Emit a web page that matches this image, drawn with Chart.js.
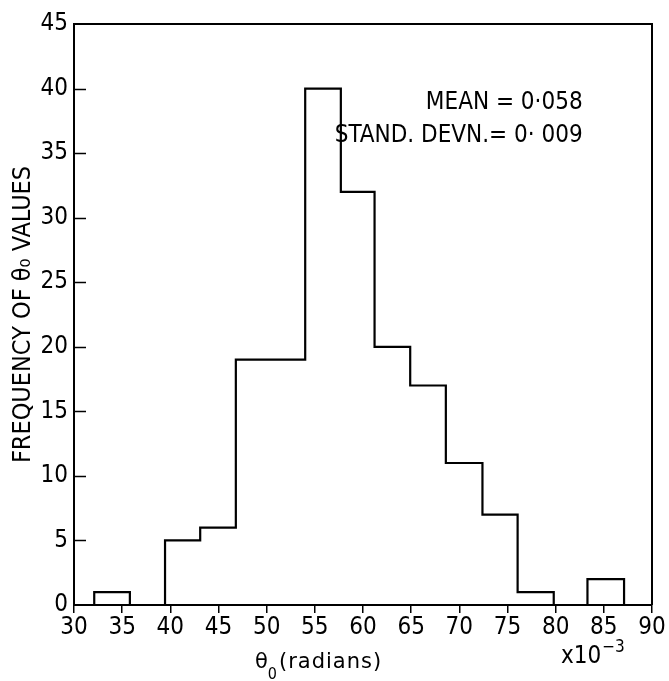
<!DOCTYPE html>
<html>
<head>
<meta charset="utf-8">
<script src="https://cdn.jsdelivr.net/npm/chart.js@4/dist/chart.umd.min.js"></script>
<style>
  html, body { margin: 0; padding: 0; background: #fff; }
  #wrap { width: 669px; height: 681px; }
</style>
</head>
<body>
<div id="wrap"><canvas id="hist"></canvas></div>
<script>
// bin edges of theta_0 (x10^-3 radians) and the count in each bin
var binEdges = [32.1, 35.8, 39.45, 43.1, 46.8, 50.4, 54.0, 57.7, 61.2, 64.9, 68.6, 72.4, 76.05, 79.8, 83.3, 87.1];
var counts = [1, 0, 5, 6, 19, 19, 40, 32, 20, 17, 11, 7, 1, 0, 2];
var xTicks = [30, 35, 40, 45, 50, 55, 60, 65, 70, 75, 80, 85, 90];
var yTicks = [0, 5, 10, 15, 20, 25, 30, 35, 40, 45];
var notes = ['MEAN = 0\u00b7058', 'STAND. DEVN.= 0\u00b7 009'];

var FONT = '"DejaVu Sans Condensed", "DejaVu Sans", sans-serif';

// outline of the histogram as a stepped line
var pts = [{x: binEdges[0], y: 0}];
for (var i = 0; i < counts.length; i++) {
    pts.push({x: binEdges[i], y: counts[i]});
}
pts.push({x: binEdges[binEdges.length - 1], y: 0});

var extras = {
    id: 'extras',
    afterDraw: function (chart) {
        var ctx = chart.ctx, a = chart.chartArea;
        var sx = chart.scales.x, sy = chart.scales.y;
        ctx.save();
        ctx.strokeStyle = '#000';
        ctx.fillStyle = '#000';
        // top and right of the frame
        ctx.lineWidth = 2;
        ctx.beginPath();
        ctx.moveTo(a.left, a.top);
        ctx.lineTo(a.right, a.top);
        ctx.lineTo(a.right, a.bottom);
        ctx.stroke();
        // y ticks point inwards
        ctx.lineWidth = 1.5;
        ctx.beginPath();
        yTicks.forEach(function (v) {
            if (v === 0 || v === 45) return;
            var py = Math.round(sy.getPixelForValue(v)) + 0.5;
            ctx.moveTo(a.left, py);
            ctx.lineTo(a.left + 12, py);
        });
        ctx.stroke();

        // mean / std note
        ctx.font = '24px ' + FONT;
        ctx.textAlign = 'right';
        ctx.textBaseline = 'alphabetic';
        ctx.fillText(notes[0], sx.getPixelForValue(82.8), sy.getPixelForValue(38.4));
        ctx.fillText(notes[1], sx.getPixelForValue(82.8), sy.getPixelForValue(35.85));

        // x axis title: theta_0 (radians)
        ctx.textAlign = 'left';
        var tx = 255, ty = 668;
        ctx.font = '21px "DejaVu Sans", sans-serif';
        ctx.fillText('\u03b8', tx, ty);
        tx += ctx.measureText('\u03b8').width;
        ctx.font = '16px ' + FONT;
        ctx.fillText('0', tx, ty + 11);
        tx += ctx.measureText('0').width + 2;
        ctx.font = '21px "DejaVu Sans", sans-serif';
        ctx.letterSpacing = '1px';
        ctx.fillText('(radians)', tx, ty);
        ctx.letterSpacing = '0px';

        // x10^-3 multiplier
        ctx.font = '24px ' + FONT;
        var mx = 561, my = 663;
        ctx.fillText('x10', mx, my);
        mx += ctx.measureText('x10').width + 1;
        ctx.font = '17px ' + FONT;
        ctx.fillText('\u22123', mx, my - 11);
        ctx.restore();
    }
};

var ctx = document.getElementById('hist').getContext('2d');
var histChart = new Chart(ctx, {
    type: 'line',
    data: {
        datasets: [{
            label: 'Frequency',
            data: pts,
            stepped: 'before',
            borderColor: '#000',
            borderWidth: 2.2,
            pointRadius: 0,
            fill: false
        }]
    },
    options: {
        responsive: true,
        maintainAspectRatio: false,
        animation: false,
        layout: {padding: {left: 0, top: 24, right: 17, bottom: 0}},
        plugins: {legend: {display: false}, tooltip: {enabled: false}},
        scales: {
            x: {
                type: 'linear',
                min: 30,
                max: 90,
                afterFit: function (s) { s.height = 76; },
                afterBuildTicks: function (s) { s.ticks = xTicks.map(function (v) { return {value: v}; }); },
                grid: {drawOnChartArea: false, drawTicks: true, tickLength: 8, color: '#000', lineWidth: 1.5},
                border: {color: '#000', width: 2},
                ticks: {color: '#000', font: {family: FONT, size: 24}, padding: 0, maxRotation: 0}
            },
            y: {
                min: 0,
                max: 45,
                afterFit: function (s) { s.width = 74; },
                afterBuildTicks: function (s) { s.ticks = yTicks.map(function (v) { return {value: v}; }); },
                grid: {display: false, drawTicks: false},
                border: {color: '#000', width: 2},
                ticks: {color: '#000', font: {family: FONT, size: 24}, padding: 6},
                title: {
                    display: true,
                    text: 'FREQUENCY OF \u03b8\u2080 VALUES',
                    color: '#000',
                    font: {family: FONT, size: 25},
                    padding: {top: 8, bottom: 0}
                }
            }
        }
    },
    plugins: [extras]
});
</script>
</body>
</html>
